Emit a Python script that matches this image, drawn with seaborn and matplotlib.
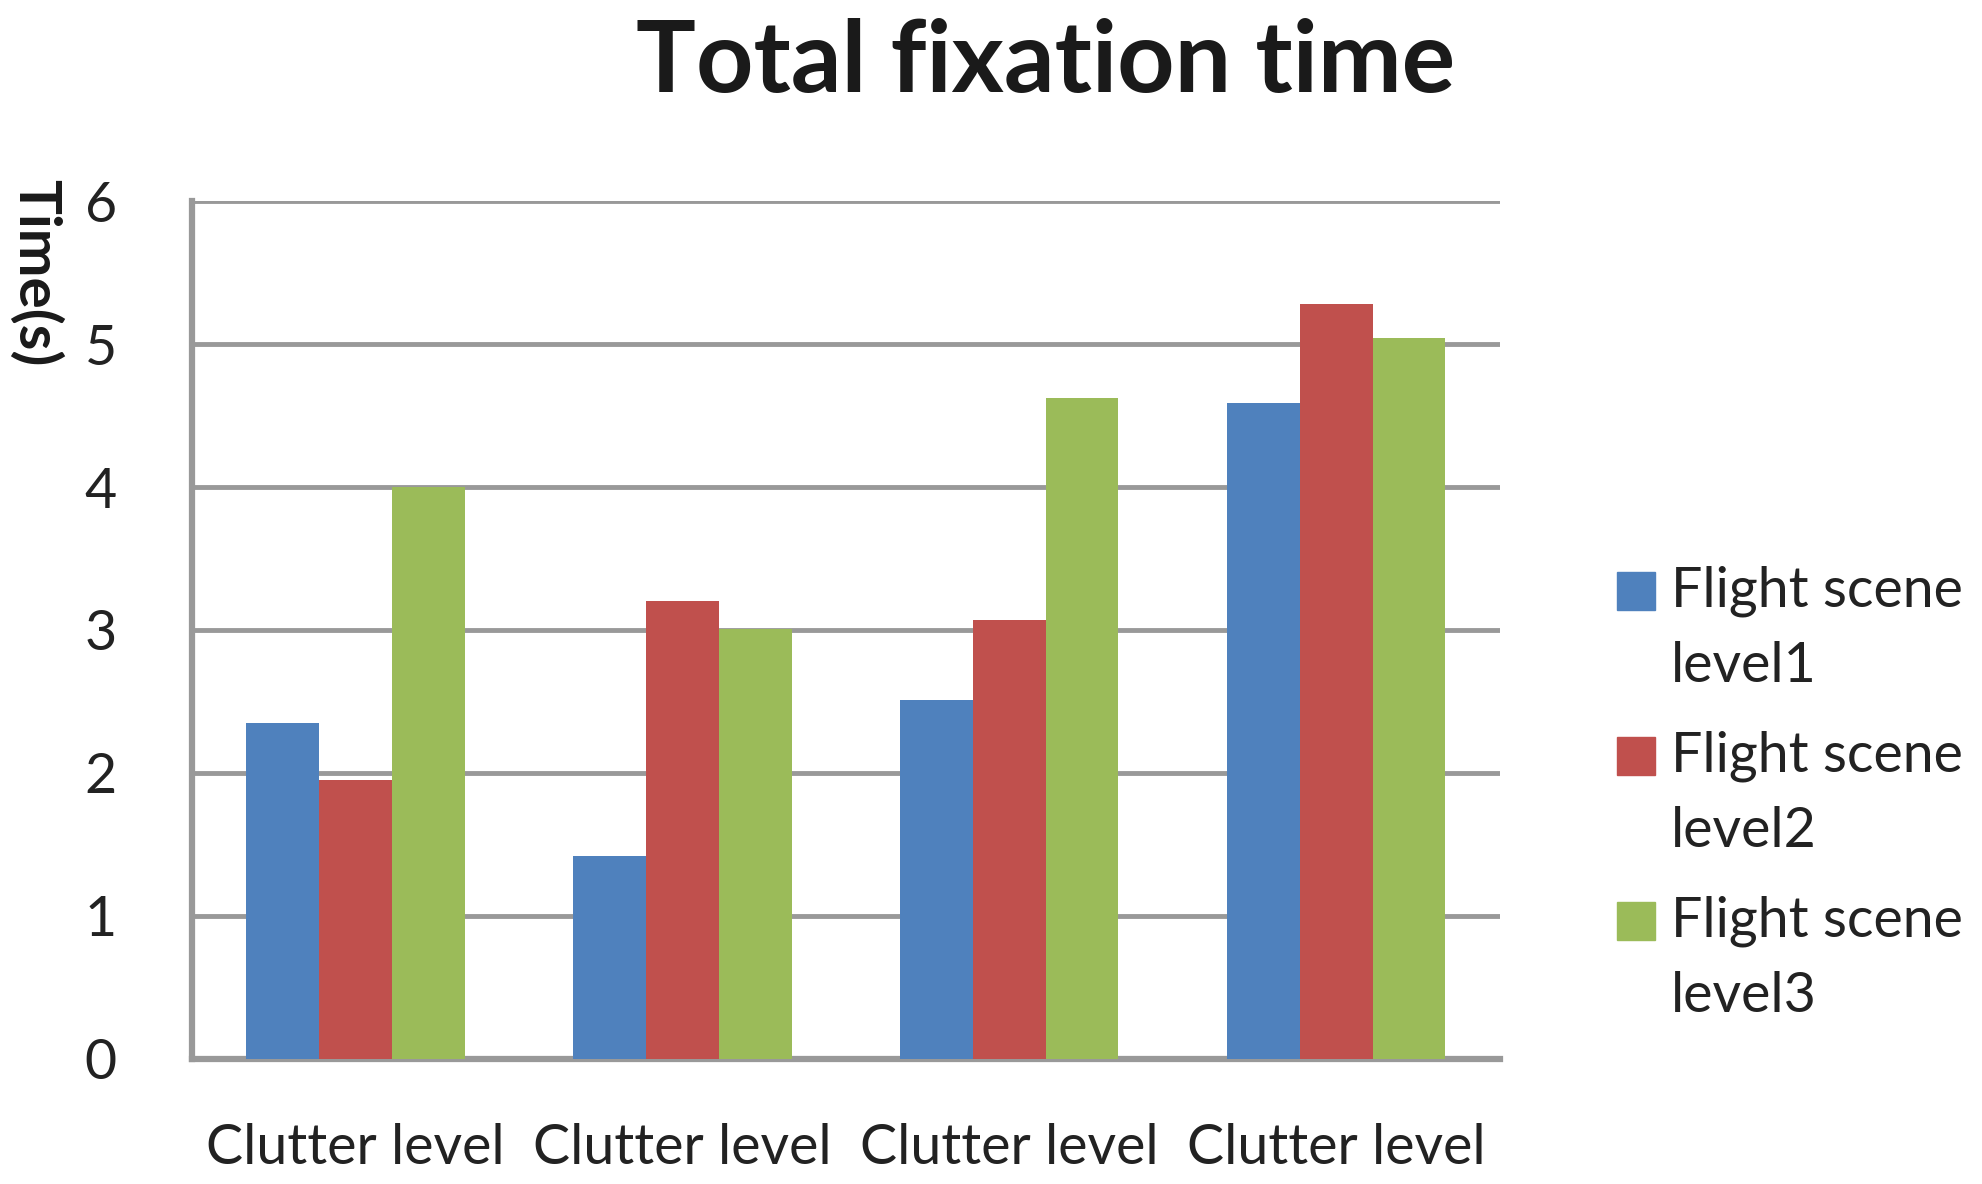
import pandas as pd
import matplotlib
matplotlib.use("Agg")
import matplotlib.pyplot as plt
from matplotlib.legend_handler import HandlerPatch
import seaborn as sns

sns.set_style("white")
plt.rcParams["font.family"] = ["Lato", "DejaVu Sans"]

# data
groups = ["C1", "C2", "C3", "C4"]
group_labels = ["Clutter level", "Clutter level", "Clutter level", "Clutter level"]
series = ["Flight scene\nlevel1", "Flight scene\nlevel2", "Flight scene\nlevel3"]
level1 = [2.35, 1.42, 2.51, 4.59]
level2 = [1.95, 3.20, 3.07, 5.28]
level3 = [4.00, 3.01, 4.62, 5.04]
colors = ["#4F81BD", "#C0504D", "#9BBB59"]

df = pd.DataFrame({
    "group": groups * 3,
    "scene": [series[0]] * 4 + [series[1]] * 4 + [series[2]] * 4,
    "time": level1 + level2 + level3,
})

fig = plt.figure(figsize=(19.83, 11.84), dpi=100)
ax = fig.add_axes([0.0968, 0.1059, 0.6596, 0.7241])

sns.barplot(
    data=df, x="group", y="time", hue="scene",
    order=groups, hue_order=series, palette=colors,
    width=0.667, saturation=1, errorbar=None, linewidth=0, ax=ax, zorder=3,
)

ax.set_ylim(0, 6)
ax.set_yticks(range(0, 7))
ax.set_xlim(-0.5, 3.5)
ax.set_xticks(range(4))
ax.set_xticklabels(group_labels)
ax.set_xlabel("")
ax.set_ylabel("")
ax.tick_params(axis="y", length=0, pad=54, labelsize=40, labelcolor="#222222")
ax.tick_params(axis="x", length=0, pad=46, labelsize=40, labelcolor="#222222")
ax.yaxis.grid(True, color="#999999", linewidth=3.5, zorder=0)
ax.set_axisbelow(True)
for s in ["top", "right"]:
    ax.spines[s].set_visible(False)
for s in ["left", "bottom"]:
    ax.spines[s].set_color("#999999")
    ax.spines[s].set_linewidth(4.5)


# legend square sits next to the first line of each two-line label
def top_square(legend, orig_handle, xdescent, ydescent, width, height, fontsize):
    return plt.Rectangle((-xdescent, -ydescent + 28), width, height)


ax.legend_.remove()
handles = [plt.Rectangle((0, 0), 1, 1, color=c) for c in colors]
leg = fig.legend(
    handles, series, loc="upper left", bbox_to_anchor=(0.8016, 0.546),
    frameon=False, fontsize=40, handlelength=0.68, handleheight=0.68,
    handletextpad=0.28, labelspacing=0.68, labelcolor="#222222",
    borderpad=0, handler_map={plt.Rectangle: HandlerPatch(patch_func=top_square)},
)
for t in leg.get_texts():
    t.set_linespacing(1.6)

fig.text(0.5275, 0.946, "Total fixation time", ha="center", va="center",
         fontsize=72, fontweight="bold", color="#1a1a1a")
fig.text(0.0177, 0.77, "Time(s)", ha="center", va="center", rotation=-90,
         fontsize=42, fontweight="bold", color="#1a1a1a")

fig.savefig("out.png", dpi=100)
